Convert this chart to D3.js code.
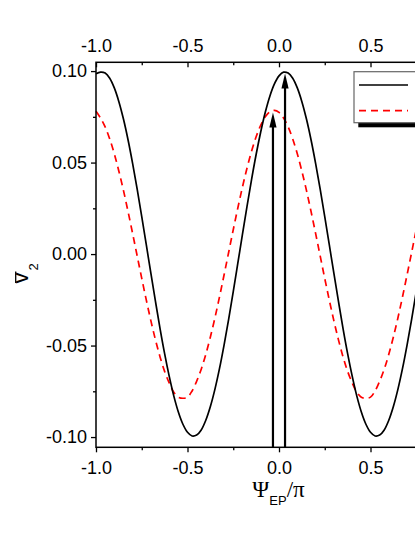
<!DOCTYPE html>
<html>
<head>
<meta charset="utf-8">
<script src="https://cdn.jsdelivr.net/npm/d3@7"></script>
<style>
html,body{margin:0;padding:0;background:#fff;overflow:hidden;}
svg{display:block;}
</style>
</head>
<body>
<svg id="chart" width="415" height="537"></svg>
<script>
// ---- data ----
const xGrid = [-1, -0.975, -0.95, -0.925, -0.9, -0.875, -0.85, -0.825, -0.8, -0.775,
  -0.75, -0.725, -0.7, -0.675, -0.65, -0.625, -0.6, -0.575, -0.55, -0.525,
  -0.5, -0.475, -0.45, -0.425, -0.4, -0.375, -0.35, -0.325, -0.3, -0.275,
  -0.25, -0.225, -0.2, -0.175, -0.15, -0.125, -0.1, -0.075, -0.05, -0.025,
  0, 0.025, 0.05, 0.075, 0.1, 0.125, 0.15, 0.175, 0.2, 0.225,
  0.25, 0.275, 0.3, 0.325, 0.35, 0.375, 0.4, 0.425, 0.45, 0.475,
  0.5, 0.525, 0.55, 0.575, 0.6, 0.625, 0.65, 0.675, 0.7, 0.725,
  0.75, 0.775, 0.8, 0.825, 0.85, 0.875, 0.9, 0.925, 0.95, 0.975, 1];

const solidSeries = [0.0985, 0.0994, 0.0989, 0.0961, 0.0908, 0.0833, 0.0738, 0.0625, 0.0496, 0.0355,
  0.0205, 0.0050, -0.0106, -0.0259, -0.0407, -0.0544, -0.0667, -0.0775, -0.0863, -0.0930,
  -0.0974, -0.0994, -0.0989, -0.0961, -0.0908, -0.0833, -0.0738, -0.0625, -0.0496, -0.0355,
  -0.0205, -0.0050, 0.0106, 0.0259, 0.0407, 0.0544, 0.0667, 0.0775, 0.0863, 0.0930,
  0.0974, 0.0994, 0.0989, 0.0961, 0.0908, 0.0833, 0.0738, 0.0625, 0.0496, 0.0355,
  0.0205, 0.0050, -0.0106, -0.0259, -0.0407, -0.0544, -0.0667, -0.0775, -0.0863, -0.0930,
  -0.0974, -0.0994, -0.0989, -0.0961, -0.0908, -0.0833, -0.0738, -0.0625, -0.0496, -0.0355,
  -0.0205, -0.0050, 0.0106, 0.0259, 0.0407, 0.0544, 0.0667, 0.0775, 0.0863, 0.0930,
  0.0974];

const dashedSeries = [0.0780, 0.0743, 0.0695, 0.0629, 0.0548, 0.0453, 0.0348, 0.0233, 0.0113, -0.0010,
  -0.0133, -0.0252, -0.0365, -0.0469, -0.0562, -0.0641, -0.0704, -0.0755, -0.0782, -0.0788,
  -0.0782, -0.0748, -0.0695, -0.0629, -0.0548, -0.0453, -0.0348, -0.0233, -0.0113, 0.0010,
  0.0133, 0.0252, 0.0365, 0.0469, 0.0562, 0.0641, 0.0704, 0.0750, 0.0777, 0.0785,
  0.0774, 0.0743, 0.0695, 0.0629, 0.0548, 0.0453, 0.0348, 0.0233, 0.0113, -0.0010,
  -0.0133, -0.0252, -0.0365, -0.0469, -0.0562, -0.0641, -0.0704, -0.0755, -0.0782, -0.0788,
  -0.0782, -0.0748, -0.0695, -0.0629, -0.0548, -0.0453, -0.0348, -0.0233, -0.0113, 0.0010,
  0.0133, 0.0252, 0.0365, 0.0469, 0.0562, 0.0641, 0.0704, 0.0750, 0.0777, 0.0785,
  0.0774];

const arrowX = [-0.033, 0.033];
const arrowTop = [0.0774, 0.0987];

// labelled x ticks (the 1.0 tick lies outside the visible window)
const xMajorTicks = [-1, -0.5, 0, 0.5];
const xTickLabels = ["-1.0", "-0.5", "0.0", "0.5"];
const xMinorTicks = [-0.75, -0.25, 0.25, 0.75];
const yMajorTicks = [-0.1, -0.05, 0, 0.05, 0.1];
const yTickLabels = ["-0.10", "-0.05", "0.00", "0.05", "0.10"];
const yMinorTicks = [-0.075, -0.025, 0.025, 0.075];
const xDomain = [-1, 1];
const yDomain = [-0.1056, 0.1048];

// ---- layout ----
const box = {left: 96, right: 462, top: 62.3, bottom: 447.3};
const FONT = "'Liberation Sans', Arial, sans-serif";
const SERIF = "'Liberation Serif', 'Times New Roman', serif";

const svg = d3.select("#chart");
const x = d3.scaleLinear().domain(xDomain).range([box.left, box.right]);
const y = d3.scaleLinear().domain(yDomain).range([box.bottom, box.top]);

function styleAxis(g) {
  g.select(".domain").remove();
  g.selectAll(".tick line").attr("stroke", "#000").attr("stroke-width", 1.3);
  g.selectAll(".tick text").attr("fill", "#000").style("font-family", FONT).style("font-size", "18px");
}

// bottom axis (ticks outward)
svg.append("g").attr("transform", `translate(0,${box.bottom})`)
  .call(d3.axisBottom(x).tickValues(xMajorTicks).tickFormat((d, i) => xTickLabels[i]).tickSizeInner(5).tickSizeOuter(0).tickPadding(9))
  .call(styleAxis);
svg.append("g").attr("transform", `translate(0,${box.bottom})`)
  .call(d3.axisBottom(x).tickValues(xMinorTicks).tickFormat("").tickSizeInner(3).tickSizeOuter(0))
  .call(styleAxis);

// top axis (ticks inward)
svg.append("g").attr("transform", `translate(0,${box.top})`)
  .call(d3.axisTop(x).tickValues(xMajorTicks).tickFormat((d, i) => xTickLabels[i]).tickSizeInner(-5).tickSizeOuter(0).tickPadding(10))
  .call(styleAxis);
svg.append("g").attr("transform", `translate(0,${box.top})`)
  .call(d3.axisTop(x).tickValues(xMinorTicks).tickFormat("").tickSizeInner(-3).tickSizeOuter(0))
  .call(styleAxis);

// left axis (ticks outward)
svg.append("g").attr("transform", `translate(${box.left},0)`)
  .call(d3.axisLeft(y).tickValues(yMajorTicks).tickFormat((d, i) => yTickLabels[i]).tickSizeInner(5).tickSizeOuter(0).tickPadding(4))
  .call(styleAxis);
svg.append("g").attr("transform", `translate(${box.left},0)`)
  .call(d3.axisLeft(y).tickValues(yMinorTicks).tickFormat("").tickSizeInner(3).tickSizeOuter(0))
  .call(styleAxis);

// curves
const solidData = xGrid.map((v, i) => ({x: v, y: solidSeries[i]}));
const dashedData = xGrid.map((v, i) => ({x: v, y: dashedSeries[i]}));
const line = d3.line().x(d => x(d.x)).y(d => y(d.y)).curve(d3.curveCatmullRom.alpha(0.5));

svg.append("path").datum(dashedData).attr("d", line)
  .attr("fill", "none").attr("stroke", "#ff0000").attr("stroke-width", 1.7).attr("stroke-dasharray", "7,5");
svg.append("path").datum(solidData).attr("d", line)
  .attr("fill", "none").attr("stroke", "#000").attr("stroke-width", 1.7);

// arrows
arrowX.forEach((ax, i) => {
  const px = x(ax), top = y(arrowTop[i]);
  svg.append("line").attr("x1", px).attr("x2", px)
    .attr("y1", y(yDomain[0])).attr("y2", top + 10)
    .attr("stroke", "#000").attr("stroke-width", 2.2);
  svg.append("path")
    .attr("d", `M${px},${top} L${px - 3.6},${top + 15} L${px + 3.6},${top + 15} Z`)
    .attr("fill", "#000");
});

// frame
svg.append("rect").attr("x", box.left).attr("y", box.top)
  .attr("width", box.right - box.left).attr("height", box.bottom - box.top)
  .attr("fill", "none").attr("stroke", "#000").attr("stroke-width", 1.5);

// legend (mostly cut off at right edge)
const lg = svg.append("g");
lg.append("rect").attr("x", 358.3).attr("y", 76).attr("width", 130).attr("height", 51.3).attr("fill", "#000");
lg.append("rect").attr("x", 354).attr("y", 71.7).attr("width", 130).attr("height", 51).attr("fill", "#fff")
  .attr("stroke", "#666").attr("stroke-width", 1.2);
lg.append("line").attr("x1", 359).attr("x2", 408).attr("y1", 85).attr("y2", 85)
  .attr("stroke", "#000").attr("stroke-width", 1.7);
lg.append("line").attr("x1", 359).attr("x2", 408).attr("y1", 110.7).attr("y2", 110.7)
  .attr("stroke", "#ff0000").attr("stroke-width", 1.7).attr("stroke-dasharray", "7,5");

// x title
const xt = svg.append("text").attr("x", 278.5).attr("y", 497).attr("text-anchor", "middle").attr("fill", "#000");
xt.append("tspan").style("font-family", SERIF).style("font-size", "23px").text("Ψ");
xt.append("tspan").style("font-family", FONT).style("font-size", "13px").attr("dy", 8).text("EP");
xt.append("tspan").style("font-family", SERIF).style("font-size", "23px").attr("dy", -8).text("/π");

// y title: v-bar with subscript 2, rotated
const yt = svg.append("g").attr("transform", "translate(28.3,283.5) rotate(-90)");
const ytt = yt.append("text").attr("x", 0).attr("y", 0).attr("fill", "#000");
ytt.append("tspan").style("font-family", FONT).style("font-size", "22px").text("v");
ytt.append("tspan").style("font-family", FONT).style("font-size", "13px").attr("dx", 2).attr("dy", 10).text("2");
yt.append("line").attr("x1", 0.5).attr("x2", 12).attr("y1", -12.6).attr("y2", -12.6)
  .attr("stroke", "#000").attr("stroke-width", 1.3);
</script>
</body>
</html>
